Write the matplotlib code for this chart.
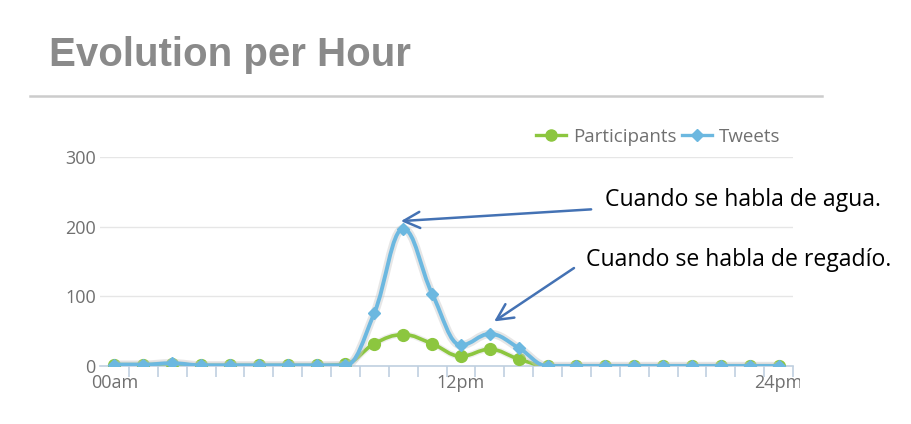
import numpy as np
import matplotlib
matplotlib.use("Agg")
import matplotlib.pyplot as plt
from matplotlib.path import Path
from matplotlib.patches import PathPatch, Rectangle
from matplotlib.lines import Line2D

# ---------------- data ----------------
hours = list(range(24))
participants = [2, 2, 3, 1, 1, 1, 1, 1, 3, 32, 45, 32, 14, 24, 10, 0, 0, 0, 0, 0, 0, 0, 0, 0]
tweets = [2, 2, 4, 1, 1, 1, 1, 1, 1, 76, 197, 104, 30, 46, 26, 0, 0, 0, 0, 0, 0, 0, 0, 0]
tick_positions = [0, 12, 23]
tick_labels = ["00am", "12pm", "24pm"]
y_ticks = [0, 100, 200, 300]
series_names = ["Participants", "Tweets"]
title = "Evolution per Hour"
note_agua = "Cuando se habla de agua."
note_regadio = "Cuando se habla de regadío."

GREEN = "#8cc63f"
BLUE = "#6cb8e0"
GREY_TXT = "#707070"
ARROW = "#4472b4"


def spline_path(xs, ys, smoothing=1.5):
    """Highcharts-style spline through the points (Bezier path)."""
    n = len(xs)
    lc = [None] * n
    rc = [None] * n
    for i in range(n):
        px, py = xs[i], ys[i]
        if 0 < i < n - 1:
            lx, ly = xs[i - 1], ys[i - 1]
            nx, ny = xs[i + 1], ys[i + 1]
            d = smoothing + 1
            lcx = (smoothing * px + lx) / d
            lcy = (smoothing * py + ly) / d
            rcx = (smoothing * px + nx) / d
            rcy = (smoothing * py + ny) / d
            corr = ((rcy - lcy) * (rcx - px)) / (rcx - lcx) + py - rcy
            lcy += corr
            rcy += corr
            if lcy > ly and lcy > py:
                lcy = max(ly, py)
                rcy = 2 * py - lcy
            elif lcy < ly and lcy < py:
                lcy = min(ly, py)
                rcy = 2 * py - lcy
            if rcy > ny and rcy > py:
                rcy = max(ny, py)
                lcy = 2 * py - rcy
            elif rcy < ny and rcy < py:
                rcy = min(ny, py)
                lcy = 2 * py - rcy
            lc[i] = (lcx, lcy)
            rc[i] = (rcx, rcy)
        else:
            lc[i] = (px, py)
            rc[i] = (px, py)
    verts = [(xs[0], ys[0])]
    codes = [Path.MOVETO]
    for i in range(1, n):
        verts += [rc[i - 1], lc[i], (xs[i], ys[i])]
        codes += [Path.CURVE4] * 3
    return Path(verts, codes)


W, H = 911, 424
fig = plt.figure(figsize=(W / 100, H / 100), dpi=100)
fig.patch.set_facecolor("white")

ax = fig.add_axes([100 / W, 1 - 366 / H, 693 / W, 209 / H])
ax.set_xlim(-0.5, 23.5)
ax.set_ylim(0, 300)
for s in ["top", "right", "left"]:
    ax.spines[s].set_visible(False)
ax.spines["bottom"].set_color("#c0d0e0")
ax.spines["bottom"].set_linewidth(1.2)

ax.set_yticks(y_ticks)
ax.set_yticklabels([str(v) for v in y_ticks], fontsize=13, color=GREY_TXT, family="Open Sans")
ax.tick_params(axis="y", length=0, pad=3)
ax.grid(axis="y", color="#e6e6e6", linewidth=1)
ax.set_axisbelow(True)

ax.set_xticks(tick_positions)
ax.set_xticklabels(tick_labels, fontsize=13, color=GREY_TXT, family="Open Sans")
ax.tick_params(axis="x", length=0, pad=6)
ax.set_xticks([h + 0.5 for h in hours], minor=True)
ax.tick_params(axis="x", which="minor", length=8, color="#c0d0e0", width=1.2, direction="out")

# series
xs = np.array(hours, dtype=float)
p_path = spline_path(xs, participants)
t_path = spline_path(xs, tweets)

ax.add_patch(PathPatch(p_path, fill=False, edgecolor="#c8c8c8", lw=4.5, alpha=0.3,
                       transform=ax.transData, zorder=2))
ax.add_patch(PathPatch(p_path, fill=False, edgecolor=GREEN, lw=2.6,
                       transform=ax.transData, zorder=3))
ax.plot(xs, participants, linestyle="none", marker="o", markersize=8.5,
        color=GREEN, zorder=4, clip_on=True)

ax.add_patch(PathPatch(t_path, fill=False, edgecolor="#c8c8c8", lw=6, alpha=0.45,
                       transform=ax.transData, zorder=5))
ax.add_patch(PathPatch(t_path, fill=False, edgecolor=BLUE, lw=2.8,
                       transform=ax.transData, zorder=6))
ax.plot(xs, tweets, linestyle="none", marker="D", markersize=6.5,
        color=BLUE, zorder=7, clip_on=True)

# clip the last x label like the reference ("24pm" cut at the right border)
clip_rect = Rectangle((0, 0), 800 / W, 1, transform=fig.transFigure)
for lab in ax.get_xticklabels():
    lab.set_clip_path(clip_rect)

# legend
handles = [
    Line2D([], [], color=GREEN, lw=2.4, marker="o", markersize=8),
    Line2D([], [], color=BLUE, lw=2.4, marker="D", markersize=6),
]
fig.legend(handles, series_names, loc="center right",
           bbox_to_anchor=(797 / W, 1 - 137 / H), ncol=2, frameon=False,
           handlelength=1.6, handletextpad=0.35, columnspacing=0.3,
           prop={"family": "Open Sans", "size": 13.5}, labelcolor=GREY_TXT)

# title and rule
fig.text(49 / W, 1 - 55 / H, title, fontsize=29, fontweight="bold",
         color="#8a8a8a", family="Liberation Sans", va="center", ha="left")
fig.add_artist(Line2D([30 / W, 822 / W], [1 - 96 / H, 1 - 96 / H],
                      color="#cccccc", lw=1.8))

# annotations
ax.annotate(note_agua, xy=(9.92, 208), xycoords="data",
            xytext=(605 / W, 1 - 200 / H), textcoords="figure fraction",
            fontsize=16.6, family="Open Sans", color="black", va="center", ha="left",
            arrowprops=dict(arrowstyle="->,head_length=0.7,head_width=0.35",
                            color=ARROW, lw=1.8, shrinkA=8, shrinkB=0),
            annotation_clip=False, zorder=10)
ax.annotate(note_regadio, xy=(13.15, 64), xycoords="data",
            xytext=(586 / W, 1 - 260 / H), textcoords="figure fraction",
            fontsize=16.6, family="Open Sans", color="black", va="center", ha="left",
            arrowprops=dict(arrowstyle="->,head_length=0.7,head_width=0.35",
                            color=ARROW, lw=1.8, shrinkA=8, shrinkB=0,
                            relpos=(0, 0.5)),
            annotation_clip=False, zorder=10)

fig.savefig("out.png", dpi=100)
